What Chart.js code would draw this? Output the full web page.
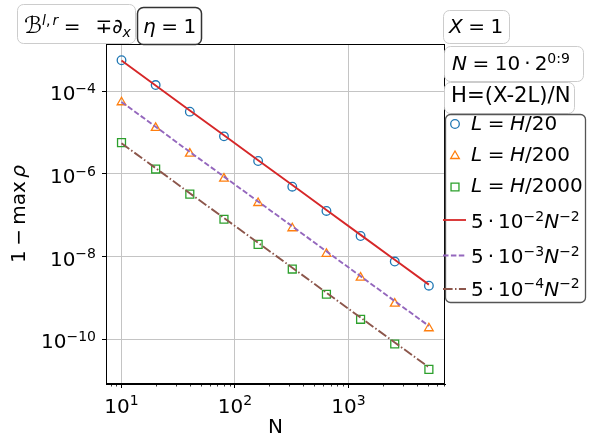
<!DOCTYPE html>
<html><head><meta charset="utf-8">
<script src="https://cdn.jsdelivr.net/npm/chart.js@4"></script>
<style>html,body{margin:0;padding:0;background:#fff}canvas{display:block}</style>
</head><body>
<canvas id="c" width="598" height="446"></canvas>
<script>
// ---- data ----
const N_VALUES = [10, 20, 40, 80, 160, 320, 640, 1280, 2560, 5120];
const RHO_L_H20   = [5.6e-4, 1.41e-4, 3.2e-5, 8.1e-6, 2.05e-6, 4.9e-7, 1.27e-7, 3.15e-8, 7.6e-9, 1.98e-9];
const RHO_L_H200  = [5.4e-5, 1.3e-5, 3.1e-6, 7.7e-7, 1.98e-7, 4.85e-8, 1.17e-8, 3.1e-9, 7.3e-10, 1.85e-10];
const RHO_L_H2000 = [5.7e-6, 1.31e-6, 3.25e-7, 8.0e-8, 1.98e-8, 5.0e-9, 1.23e-9, 3.05e-10, 7.7e-11, 1.88e-11];
const REF_5E2 = [5.5e-4, 1.38e-4, 3.4e-5, 8.6e-6, 2.15e-6, 5.4e-7, 1.34e-7, 3.35e-8, 8.4e-9, 2.1e-9];
const REF_5E3 = [5.5e-5, 1.38e-5, 3.4e-6, 8.6e-7, 2.15e-7, 5.4e-8, 1.34e-8, 3.35e-9, 8.4e-10, 2.1e-10];
const REF_5E4 = [5.5e-6, 1.38e-6, 3.4e-7, 8.6e-8, 2.15e-8, 5.4e-9, 1.34e-9, 3.35e-10, 8.4e-11, 2.1e-11];
const X_TICKS = [10, 100, 1000];
const X_TICK_EXP = ['1', '2', '3'];
const X_MINOR = [8, 9, 20, 30, 40, 50, 60, 70, 80, 90, 200, 300, 400, 500, 600, 700, 800, 900, 2000, 3000, 4000, 5000, 6000, 7000];
const Y_TICKS = [1e-10, 1e-8, 1e-6, 1e-4];
const Y_TICK_EXP = ['\u221210', '\u22128', '\u22126', '\u22124'];
const X_RANGE = [7.3, 7100];
const Y_RANGE = [8.3e-12, 1.385e-3];

// ---- rich text helpers ----
const FAM = '"DejaVu Sans"';
function fontStr(size, it) { return (it ? 'italic ' : '') + size + 'px ' + FAM; }
function layoutRich(ctx, segs, size) {
  let w = 0; const items = [];
  for (const s of segs) {
    if (s.sp !== undefined) { w += s.sp * size; continue; }
    let sz = (s.sup || s.sub) ? size * 0.7 : size;
    if (s.scale) sz *= s.scale;
    ctx.font = fontStr(sz, s.it);
    const sw = ctx.measureText(s.t).width;
    items.push({ s, x: w, sz, dy: s.sup ? -0.36 * size : (s.sub ? 0.2 * size : 0) });
    w += sw;
  }
  return { w, items };
}
function drawRich(ctx, segs, x, y, size, align) {
  const L = layoutRich(ctx, segs, size);
  const x0 = align === 'center' ? x - L.w / 2 : align === 'right' ? x - L.w : x;
  ctx.fillStyle = '#000'; ctx.textBaseline = 'alphabetic'; ctx.textAlign = 'left';
  for (const it of L.items) { ctx.font = fontStr(it.sz, it.s.it); ctx.fillText(it.s.t, x0 + it.x, y + it.dy); }
  return L.w;
}
function roundBox(ctx, x, y, w, h, r, stroke, lw) {
  ctx.save();
  ctx.beginPath();
  ctx.moveTo(x + r, y); ctx.lineTo(x + w - r, y); ctx.arcTo(x + w, y, x + w, y + r, r);
  ctx.lineTo(x + w, y + h - r); ctx.arcTo(x + w, y + h, x + w - r, y + h, r);
  ctx.lineTo(x + r, y + h); ctx.arcTo(x, y + h, x, y + h - r, r);
  ctx.lineTo(x, y + r); ctx.arcTo(x, y, x + r, y, r); ctx.closePath();
  ctx.fillStyle = '#fff'; ctx.fill();
  ctx.strokeStyle = stroke; ctx.lineWidth = lw; ctx.stroke();
  ctx.restore();
}
const SP = 0.278;
const eqSegs = (a, b) => [{ t: a, it: true }, { sp: SP }, { t: '=' }, { sp: SP }].concat(b);
const refSegs = (e) => [{ t: '5' }, { sp: 0.2 }, { t: '\u00b7' }, { sp: 0.2 }, { t: '10' }, { t: e, sup: true }, { t: 'N', it: true }, { t: '\u22122', sup: true }];

const LEGEND = [
  { kind: 'circle', color: '#1f77b4', segs: eqSegs('L', [{ t: 'H', it: true }, { t: '/20' }]) },
  { kind: 'triangle', color: '#ff7f0e', segs: eqSegs('L', [{ t: 'H', it: true }, { t: '/200' }]) },
  { kind: 'rect', color: '#2ca02c', segs: eqSegs('L', [{ t: 'H', it: true }, { t: '/2000' }]) },
  { kind: 'line', color: '#d62728', dash: [], segs: refSegs('\u22122') },
  { kind: 'line', color: '#9467bd', dash: [5.5, 2.4], segs: refSegs('\u22123') },
  { kind: 'line', color: '#8c564b', dash: [9.6, 2.4, 1.5, 2.4], segs: refSegs('\u22124') },
];
const LEGEND_Y = [124, 156, 187, 220, 255.5, 289];
const LEGEND_TEXT_Y = [129.5, 160.8, 191.8, 228.3, 263, 295.5];

const deco = {
  id: 'deco',
  afterDraw(chart) {
    const ctx = chart.ctx, a = chart.chartArea;
    const xs = chart.scales.x, ys = chart.scales.y;
    ctx.save();
    // frame
    ctx.strokeStyle = '#000'; ctx.lineWidth = 1;
    ctx.strokeRect(Math.round(a.left) + 0.5, Math.round(a.top) + 0.5, Math.round(a.right - a.left) - 1, Math.round(a.bottom - a.top) - 1);
    // minor x ticks
    ctx.lineWidth = 0.8;
    ctx.beginPath();
    for (const v of X_MINOR) {
      const px = Math.round(xs.getPixelForValue(v)) + 0.5;
      if (px < a.left || px > a.right) continue;
      ctx.moveTo(px, a.bottom); ctx.lineTo(px, a.bottom + 2.5);
    }
    ctx.stroke();
    // tick labels
    X_TICKS.forEach((v, i) => {
      drawRich(ctx, [{ t: '10' }, { t: X_TICK_EXP[i], sup: true }], xs.getPixelForValue(v), 412.5, 20, 'center');
    });
    Y_TICKS.forEach((v, i) => {
      drawRich(ctx, [{ t: '10' }, { t: Y_TICK_EXP[i], sup: true }], 96, ys.getPixelForValue(v) + 9, 20, 'right');
    });
    // axis labels
    drawRich(ctx, [{ t: 'N' }], (a.left + a.right) / 2, 433, 20, 'center');
    ctx.save();
    ctx.translate(25, (a.top + a.bottom) / 2); ctx.rotate(-Math.PI / 2);
    drawRich(ctx, [{ t: '1' }, { sp: 0.22 }, { t: '\u2212' }, { sp: 0.22 }, { t: 'max' }, { sp: 0.17 }, { t: '\u03c1', it: true }], 0, 0, 20, 'center');
    ctx.restore();
    // top-left boxes
    roundBox(ctx, 17.5, 4.5, 118, 39, 6, '#cccccc', 1);
    drawRich(ctx, [{ t: '\u212c', scale: 1.15 }, { t: 'l', it: true, sup: true }, { t: ',', sup: true }, { sp: 0.1 }, { t: 'r', it: true, sup: true }, { sp: SP }, { t: '=' }, { sp: 0.75 }, { t: '\u2213' }, { t: '\u2202' }, { t: 'x', it: true, sub: true }], 24, 32.5, 20, 'left');
    roundBox(ctx, 137.5, 7.5, 64, 37, 6, '#333333', 1.5);
    drawRich(ctx, eqSegs('\u03b7', [{ t: '1' }]), 143, 33, 20, 'left');
    // right boxes
    roundBox(ctx, 443.5, 10.5, 66, 33, 6, '#cccccc', 1);
    drawRich(ctx, eqSegs('X', [{ t: '1' }]), 449, 32.5, 20, 'left');
    roundBox(ctx, 444.5, 46.5, 139, 35, 6, '#cccccc', 1);
    drawRich(ctx, eqSegs('N', [{ t: '10' }, { sp: 0.2 }, { t: '\u00b7' }, { sp: 0.2 }, { t: '2' }, { t: '0', sup: true }, { t: ':', sup: true }, { t: '9', sup: true }]), 452, 70, 20, 'left');
    roundBox(ctx, 444.5, 82.5, 130, 31, 6, '#cccccc', 1);
    drawRich(ctx, [{ t: 'H=(X-2L)/N' }], 451, 101.5, 21.2, 'left');
    // legend
    roundBox(ctx, 445.5, 114.5, 140, 188, 5, '#555555', 1.3);
    LEGEND.forEach((e, i) => {
      const y = LEGEND_Y[i];
      ctx.save();
      ctx.strokeStyle = e.color;
      ctx.fillStyle = 'rgba(0,0,0,0)';
      if (e.kind === 'line') {
        ctx.lineWidth = 1.8; ctx.setLineDash(e.dash);
        ctx.beginPath(); ctx.moveTo(443, y); ctx.lineTo(466, y); ctx.stroke();
      } else {
        ctx.lineWidth = 1.3;
        Chart.helpers.drawPoint(ctx, { pointStyle: e.kind, radius: e.kind === 'rect' ? 5.6 : (e.kind === 'triangle' ? 5 : 4.3), borderWidth: 1.3, rotation: 0 }, 455, y);
      }
      ctx.restore();
      drawRich(ctx, e.segs, 471, LEGEND_TEXT_Y[i], 20, 'left');
    });
    ctx.restore();
  }
};

const xy = (ys) => N_VALUES.map((n, i) => ({ x: n, y: ys[i] }));
const lineDs = (label, ys, color, dash) => ({ label, data: xy(ys), borderColor: color, borderWidth: 1.9, borderDash: dash, pointRadius: 0, showLine: true, fill: false, order: 0, tension: 0 });
const ptDs = (label, ys, color, style, r) => ({ label, data: xy(ys), showLine: false, pointStyle: style, pointRadius: r, borderColor: color, backgroundColor: 'rgba(0,0,0,0)', pointBorderWidth: 1.3, order: 1 });

new Chart(document.getElementById('c'), {
  type: 'line',
  data: {
    datasets: [
      lineDs('5·10⁻²N⁻²', REF_5E2, '#d62728', []),
      lineDs('5·10⁻³N⁻²', REF_5E3, '#9467bd', [5.5, 2.4]),
      lineDs('5·10⁻⁴N⁻²', REF_5E4, '#8c564b', [9.6, 2.4, 1.5, 2.4]),
      ptDs('L=H/20', RHO_L_H20, '#1f77b4', 'circle', 4.3),
      ptDs('L=H/200', RHO_L_H200, '#ff7f0e', 'triangle', 5),
      ptDs('L=H/2000', RHO_L_H2000, '#2ca02c', 'rect', 5.6),
    ]
  },
  options: {
    responsive: false, animation: false, devicePixelRatio: 1,
    layout: { padding: { left: 0, top: 44, right: 153, bottom: 0 } },
    plugins: { legend: { display: false }, tooltip: { enabled: false } },
    scales: {
      x: {
        type: 'logarithmic', min: X_RANGE[0], max: X_RANGE[1],
        afterBuildTicks: (s) => { s.ticks = X_TICKS.map(v => ({ value: v })); },
        afterFit: (s) => { s.height = 62; },
        ticks: { display: false },
        grid: { color: '#c4c4c4', lineWidth: 1, drawTicks: true, tickLength: 4, tickColor: '#000', tickWidth: 1 },
        border: { display: true, color: '#000', width: 1 }
      },
      y: {
        type: 'logarithmic', min: Y_RANGE[0], max: Y_RANGE[1],
        afterBuildTicks: (s) => { s.ticks = Y_TICKS.map(v => ({ value: v })); },
        afterFit: (s) => { s.width = 106; },
        ticks: { display: false },
        grid: { color: '#c4c4c4', lineWidth: 1, drawTicks: true, tickLength: 4, tickColor: '#000', tickWidth: 1 },
        border: { display: true, color: '#000', width: 1 }
      }
    }
  },
  plugins: [deco]
});
</script>
</body></html>
